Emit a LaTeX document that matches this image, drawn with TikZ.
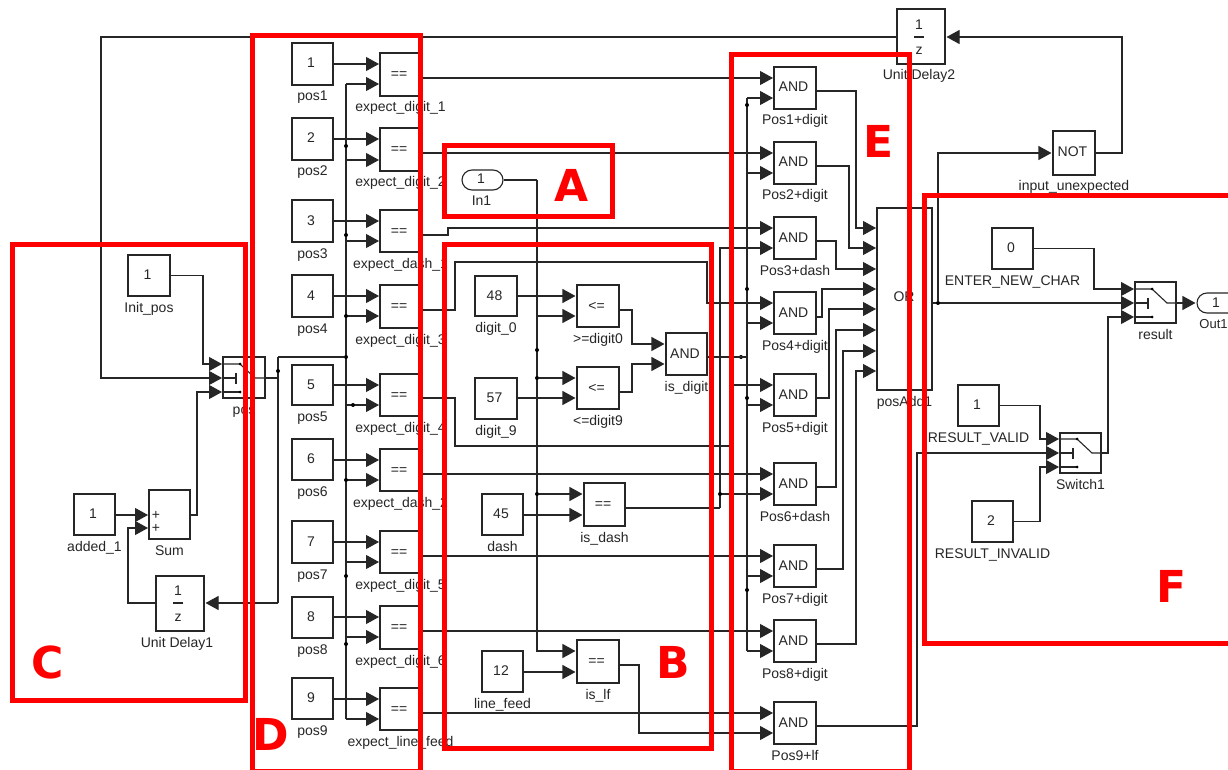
\documentclass[tikz,border=0pt]{standalone}
\usepackage{fontspec}
\setmainfont{Liberation Sans}
\newfontfamily\bigfont{DejaVu Sans}
\usetikzlibrary{arrows.meta,shapes.misc}
\definecolor{wirecol}{HTML}{262626}
\tikzset{
  wire/.style={draw=wirecol,line width=1.1pt,line join=miter},
  arr/.style={wire,-{Triangle[length=13pt,width=14pt]},shorten >=1pt},
  blockbox/.style={draw=wirecol,line width=1.1pt,fill=white,inner sep=0pt,text=wirecol,text height=10pt,text depth=2pt,font=\fontsize{14}{14}\selectfont},
  pillbox/.style={rounded rectangle,draw=wirecol,line width=1.1pt,fill=white,inner sep=0pt,text=wirecol,text height=10pt,text depth=2pt,font=\fontsize{14}{14}\selectfont},
  plain/.style={inner sep=0pt,text=wirecol,font=\fontsize{14}{14}\selectfont},
  lab/.style={plain,text height=10pt,text depth=3pt},
  jdot/.style={circle,fill=black,inner sep=0pt,minimum size=4pt},
  redbox/.style={draw=red,line width=5pt,line join=miter},
  bigletter/.style={inner sep=0pt,text=red,font=\bigfont\bfseries\fontsize{44}{44}\selectfont}
}
% name, x1, y1, x2, y2, text, label; optional shift of the label
\newcommand{\blk}[8][0]{%
  \node[blockbox,minimum width={(#5-#3)*1pt},minimum height={(#6-#4)*1pt}] (#2) at ({(#3+#5)/2},{(#4+#6)/2}) {\hspace*{-3pt}#7};
  \node[lab] (#2-l) at ({(#3+#5)/2+#1},{#6+12.5}) {#8};}
\newcommand{\jd}[3]{\node[jdot] (#1) at (#2,#3) {};}
% switch inside: name, left x, top y, mid y, bottom y, right x
\newcommand{\swinner}[6]{%
  \draw[wire] (#2,#3) -- ({#2+17},#3) -- ({#2+32},#4) -- (#6,#4);
  \draw[wire] (#2,#4) -- ({#2+13},#4);
  \draw[wire] ({#2+13},{#4-5.5}) -- ({#2+13},{#4+5.5});
  \draw[wire] (#2,#5) -- ({#2+17},#5);
  \node[jdot,minimum size=3pt] (#1-j1) at ({#2+17},#3) {};
  \node[jdot,minimum size=3pt] (#1-j2) at ({#2+17},#5) {};}
% unit-delay contents: name, x centre, y number, y line, y z
\newcommand{\udinner}[5]{%
  \node[plain] (#1-n) at (#2,#3) {1};
  \draw[wire] ({#2-5},#4) -- ({#2+5},#4);
  \node[plain] (#1-d) at (#2,#5) {z};}
\begin{document}
\begin{tikzpicture}[x=1pt,y=-1pt]
\useasboundingbox (0,0) rectangle (1228,770);
\clip (0,0) rectangle (1228,770);
\fill[white] (0,0) rectangle (1228,770);

% ---------- constants pos1..pos9 and == blocks
\foreach \ii/\yt/\yb in {1/43/85,2/118/160,3/200/242,4/275/317,5/365/405,6/439/480,7/521/563,8/597/638,9/678/719}
  {\blk{pos\ii}{292}{\yt}{333}{\yb}{\ii}{pos\ii}}
\foreach \ii/\yt/\yb/\pa/\pb/\po/\lb in {
  1/53/96/64/84/78/expect\_digit\_1,
  2/128/171/139/160/153/expect\_digit\_2,
  3/210/252/221/241/235/expect\_dash\_1,
  4/285/328/296/316/310/expect\_digit\_3,
  5/374/416/385/405/398/expect\_digit\_4,
  6/449/491/460/480/474/expect\_dash\_2,
  7/531/573/542/562/556/expect\_digit\_5,
  8/606/649/617/637/631/expect\_digit\_6,
  9/688/730/699/719/713/expect\_line\_feed}{
  \blk{e\ii}{380}{\yt}{421}{\yb}{==}{\lb}
  \coordinate (e\ii-a) at (380,\pa);
  \coordinate (e\ii-b) at (380,\pb);
  \coordinate (e\ii-o) at (421,\po);
}
% ---------- AND blocks
\foreach \ii/\yt/\yb/\pa/\pb/\po/\lb in {
  1/67/109/78/98/91/Pos1+digit,
  2/142/184/153/173/166/Pos2+digit,
  3/217/259/228/248/241/Pos3+dash,
  4/292/334/303/323/317/Pos4+digit,
  5/374/416/385/405/398/Pos5+digit,
  6/463/505/474/494/487/Pos6+dash,
  7/545/587/556/576/569/Pos7+digit,
  8/620/662/631/651/644/Pos8+digit,
  9/702/744/713/733/726/Pos9+lf}{
  \blk{a\ii}{774}{\yt}{816}{\yb}{AND}{\lb}
  \coordinate (a\ii-a) at (774,\pa);
  \coordinate (a\ii-b) at (774,\pb);
  \coordinate (a\ii-o) at (816,\po);
}
% ---------- OR block
\blk{orb}{877}{208}{932}{390}{}{posAdd1}
\node[plain] (orb-t) at (904,297) {OR};
\foreach \ii/\yy in {1/228,2/248,3/269,4/289,5/309,6/330,7/351,8/371}
  {\coordinate (or\ii) at (877,\yy);}
\coordinate (orb-o) at (932,303);

% ---------- group C
\blk{initpos}{128}{255}{170}{296}{1}{Init\_pos}
\blk{mux}{223}{357}{265}{398}{}{pos}
\blk{addone}{74}{494}{115}{535}{1}{added\_1}
\blk{sumb}{149}{490}{190}{539}{}{Sum}
\node[plain] (sum-p1) at (156,515) {+};
\node[plain] (sum-p2) at (156,528) {+};
\blk[-3]{ud1}{156}{576}{204}{631}{}{Unit Delay1}
\udinner{ud1}{178}{591}{603}{618}
\coordinate (mux-a) at (223,364);
\coordinate (mux-b) at (223,378);
\coordinate (mux-c) at (223,392);
\coordinate (sum-a) at (149,515);
\coordinate (sum-b) at (149,528);
\swinner{mux}{223}{364}{378}{392}{265}

% ---------- group A and B
\node[pillbox,minimum width=41pt,minimum height=20pt] (inone) at (482.5,180) {\hspace*{-3pt}1};
\node[lab] (inone-l) at (481.5,201.5) {In1};
\blk{dzero}{475}{276}{517}{316}{48}{digit\_0}
\blk{dnine}{475}{378}{517}{419}{57}{digit\_9}
\blk{lezero}{577}{285}{619}{327}{<=}{>=digit0}
\blk{lenine}{577}{367}{619}{409}{<=}{<=digit9}
\blk{isdigit}{666}{333}{707}{375}{AND}{is\_digit}
\blk{dashc}{482}{494}{523}{535}{45}{dash}
\blk{isdash}{584}{483}{625}{526}{==}{is\_dash}
\blk{lfc}{482}{651}{523}{692}{12}{line\_feed}
\blk{islf}{577}{640}{619}{683}{==}{is\_lf}

% ---------- upper right
\blk[-2]{ud2}{897}{9}{945}{64}{}{Unit Delay2}
\udinner{ud2}{919}{25}{37}{51}
\blk{notb}{1053}{131}{1095}{175}{NOT}{input\_unexpected}

% ---------- group F
\blk{enter}{992}{228}{1033}{269}{0}{ENTER\_NEW\_CHAR}
\blk{resb}{1135}{282}{1176}{323}{}{result}
\swinner{resb}{1135}{289}{303}{317}{1176}
\blk{rvalid}{958}{385}{999}{426}{1}{RESULT\_VALID}
\blk{rinvalid}{972}{501}{1013}{542}{2}{RESULT\_INVALID}
\blk{swb}{1060}{433}{1101}{473}{}{Switch1}
\swinner{swb}{1060}{439}{453}{467}{1101}
\node[pillbox,minimum width=41pt,minimum height=20pt] (outone) at (1217.5,303) {\hspace*{-3pt}1};
\node[lab,font=\fontsize{13}{13}\selectfont] (outone-l) at (1213.5,324.5) {Out1};
\coordinate (res-a) at (1135,289);
\coordinate (res-b) at (1135,303);
\coordinate (res-c) at (1135,317);
\coordinate (sw-a) at (1060,439);
\coordinate (sw-b) at (1060,453);
\coordinate (sw-c) at (1060,467);

% ---------- wires: pos -> ==
\foreach \ii in {1,...,9}{\draw[arr] (pos\ii.east |- e\ii-a) -- (e\ii-a);}
\coordinate (busx) at (346,0);
\draw[wire] (busx |- e1-b) -- (busx |- e9-b);
\foreach \ii in {1,...,9}{\draw[arr] (busx |- e\ii-b) -- (e\ii-b);}
\jd{jb1}{346}{146}\jd{jb2}{346}{235}\jd{jb3}{346}{316}\jd{jb4}{346}{357}
\jd{jb5}{353}{405}\jd{jb6}{346}{480}\jd{jb7}{346}{576}\jd{jb8}{346}{644}

% ---------- wires: group C
\draw[wire] (265,378) -- (278,378);
\coordinate (fbtop) at (278,357);
\coordinate (fbbot) at (278,603);
\draw[wire] (fbtop) -- (fbbot);
\draw[wire] (fbtop) -- (jb4);
\jd{jm}{278}{371}
\draw[arr] (fbbot) -- (ud1.east |- fbbot);
\draw[arr] (initpos.east) -| (203,364) -- (mux-a);
\draw[arr] (ud2.west |- 0,37) -- (101,37) -- (101,378) -- (mux-b);
\draw[arr] (sumb.east |- sum-a) -- (197,515) -- (197,392) -- (mux-c);
\draw[arr] (addone.east |- sum-a) -- (sum-a);
\draw[arr] (ud1.west |- fbbot) -- (128,603) -- (128,528) -- (sum-b);

% ---------- wires: == -> AND
\draw[arr] (e1-o) -- (a1-a);
\draw[arr] (e2-o) -- (a2-a);
\draw[arr] (e3-o) -- (448,235) -- (448,228) -- (a3-a);
\draw[arr] (e4-o) -- (455,310) -- (455,262) -- (707,262) -- (707,303) -- (a4-a);
\draw[arr] (e5-o) -- (455,398) -- (455,446) -- (733,446) -- (733,385) -- (a5-a);
\draw[arr] (e6-o) -- (a6-a);
\draw[arr] (e7-o) -- (a7-a);
\draw[arr] (e8-o) -- (a8-a);
\draw[arr] (e9-o) -- (a9-a);

% ---------- wires: input and character tests
\coordinate (inbus) at (537,180);
\draw[wire] (inone.east) -- (inbus);
\draw[arr] (inbus) -- (537,651) -- (islf.west |- 0,651);
\jd{ji1}{537}{350}\jd{ji2}{537}{378}\jd{ji3}{537}{494}
\draw[arr] (537,316) -- (lezero.west |- 0,316);
\draw[arr] (ji2) -- (lenine.west |- ji2);
\draw[arr] (ji3) -- (isdash.west |- ji3);
\draw[arr] (dzero.east |- 0,296) -- (lezero.west |- 0,296);
\draw[arr] (dnine.east |- 0,398) -- (lenine.west |- 0,398);
\draw[arr] (dashc.east |- 0,515) -- (isdash.west |- 0,515);
\draw[arr] (lfc.east |- 0,672) -- (islf.west |- 0,672);
\draw[arr] (lezero.east |- 0,310) -- (632,310) -- (632,344) -- (isdigit.west |- 0,344);
\draw[arr] (lenine.east |- 0,392) -- (632,392) -- (632,364) -- (isdigit.west |- 0,364);
\draw[arr] (islf.east |- 0,665) -- (639,665) -- (639,733) -- (a9-b);

% ---------- wires: is_digit and is_dash buses
\coordinate (dbus) at (747,0);
\jd{jd5}{741}{357}
\draw[wire] (isdigit.east |- jd5) -- (dbus |- jd5);
\draw[wire] (dbus |- a1-b) -- (dbus |- a8-b);
\foreach \ii in {1,2,4,5,7,8}{\draw[arr] (dbus |- a\ii-b) -- (a\ii-b);}
\jd{jd1}{747}{105}\jd{jd2}{747}{289}\jd{jd3}{747}{398}\jd{jd4}{747}{590}
\draw[wire] (isdash.east |- 0,508) -- (720,508);
\draw[arr] (720,508) -- (720,248) -- (a3-b);
\draw[arr] (720,494) -- (a6-b);
\jd{jd6}{720}{494}

% ---------- wires: AND -> OR
\foreach \ii/\xx in {1/856,2/849,3/836,4/822,5/829,6/836,7/843,8/856}{
  \coordinate (tmp) at (\xx,0);
  \draw[arr] (a\ii-o) -| (tmp |- or\ii) -- (or\ii);
}
\draw[arr] (a9-o) -- (917,726) -- (917,453) -- (sw-b);

% ---------- wires: right part
\draw[arr] (orb-o) -- (res-b);
\jd{jo}{938}{303}
\draw[arr] (jo) -- (938,153) -- (notb.west |- 0,153);
\draw[arr] (notb.east |- 0,153) -- (1122,153) -- (1122,37) -- (ud2.east |- 0,37);
\draw[arr] (enter.east) -| (1094,289) -- (res-a);
\draw[arr] (rvalid.east) -| (1040,439) -- (sw-a);
\draw[arr] (rinvalid.east) -| (1040,467) -- (sw-c);
\draw[arr] (swb.east) -| (1108,317) -- (res-c);
\draw[arr] (resb.east |- res-b) -- (outone.west |- res-b);

% ---------- red frames and letters
\draw[redbox] (444.5,145.5) rectangle (612.5,216.5);
\draw[redbox] (444.5,244.5) rectangle (711.5,748.5);
\draw[redbox] (12,244.5) rectangle (245,700.5);
\draw[redbox] (252,36) rectangle (420,771.5);
\draw[redbox] (731.5,54.5) rectangle (909.5,771.5);
\draw[redbox] (924.5,195.5) rectangle (1240,643);
\node[bigletter] (la) at (572,185) {A};
\node[bigletter] (lb) at (673,662) {B};
\node[bigletter] (lc) at (48,662) {C};
\node[bigletter] (ld) at (271,734) {D};
\node[bigletter] (le) at (879,141) {E};
\node[bigletter] (lf) at (1172,586) {F};
\end{tikzpicture}
\end{document}
